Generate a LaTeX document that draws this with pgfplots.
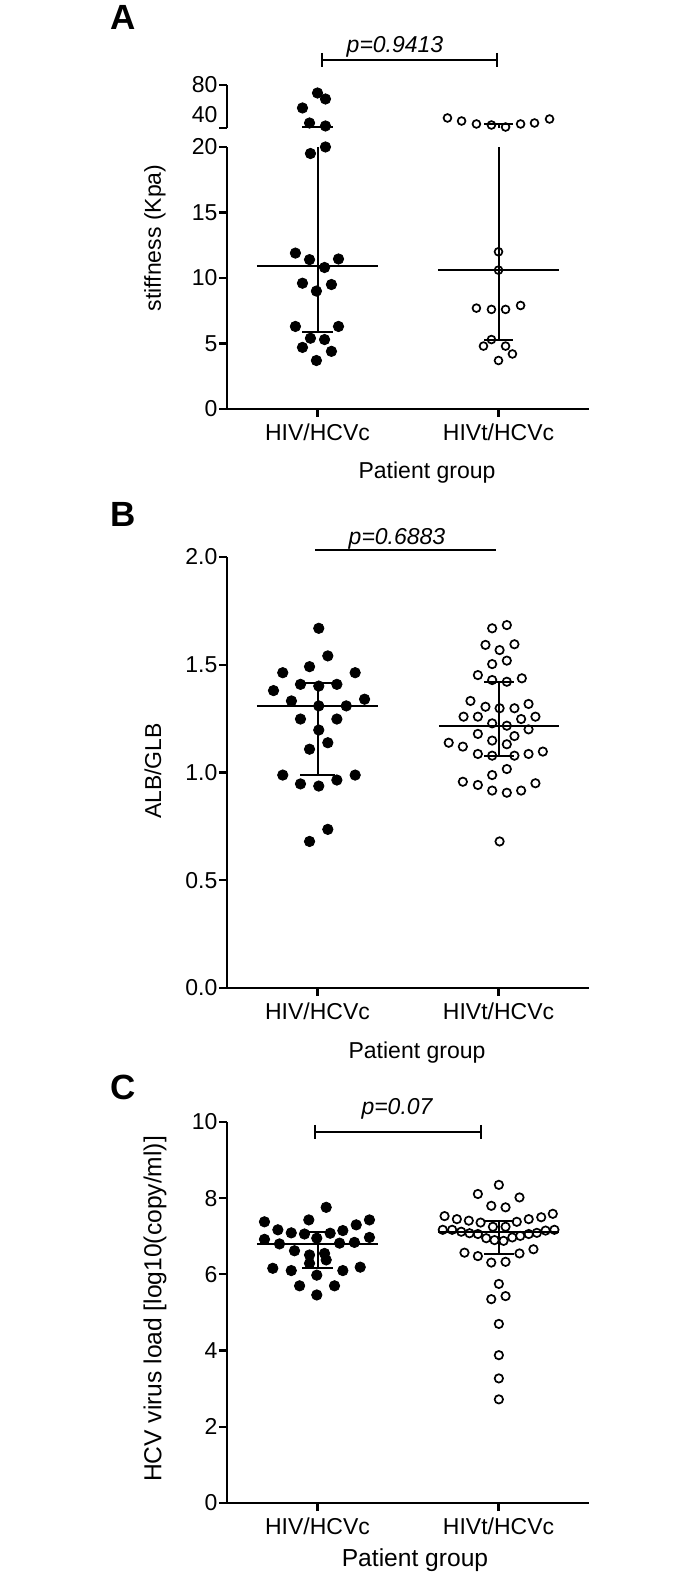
\documentclass[border=0pt]{standalone}
\usepackage{pgfplots}
\pgfplotsset{compat=1.18}
\usepackage{fontspec}
\setmainfont{Liberation Sans}
\newcommand{\tk}{\fontsize{11.5}{13}\selectfont}
\newcommand{\tkc}{\fontsize{12.3}{14}\selectfont}
\pgfplotsset{
  gp/.style={
    scale only axis, width=181pt,
    xmin=0.5, xmax=2.5,
    axis x line=bottom, axis y line=left,
    axis line style={-, line width=1.3pt},
    tick align=outside, major tick length=4pt,
    every tick/.style={black, line width=1.1pt},
    xtick={1,2}, xticklabels={HIV/HCVc,HIVt/HCVc},
    ticklabel style={font=\tk},
    yticklabel style={inner xsep=0.6pt},
    /pgf/number format/assume math mode=true,
    clip=false,
    anchor=south west,
  },
  filled/.style={only marks, mark=*, mark size=2.6pt, mark options={fill=black, draw=black}},
  hollow/.style={only marks, mark=o, mark size=2.1pt, mark options={draw=black, line width=0.85pt}},
  wl/.style={black, line width=1pt, mark=none},
}
\begin{document}
\begin{tikzpicture}
\useasboundingbox (0,0) rectangle (350pt,788.5pt);
% ---------------- Panel A lower ----------------
\begin{axis}[gp, at={(113.5pt,584pt)}, height=131pt, ymin=0, ymax=20, ytick={0,5,10,15,20}]
\addplot[wl] coordinates {(0.665,10.9) (1.335,10.9)};
\addplot[wl] coordinates {(1,5.9) (1,20)};
\addplot[wl] coordinates {(0.915,5.9) (1.085,5.9)};
\addplot[wl] coordinates {(1.665,10.6) (2.335,10.6)};
\addplot[wl] coordinates {(2,5.3) (2,20)};
\addplot[wl] coordinates {(1.92,5.3) (2.08,5.3)};
\addplot[filled] coordinates {
(0.878,11.9) (0.956,11.4) (1.116,11.45) (1.039,10.8) (0.917,9.6) (1.077,9.5) (0.994,9.0)
(0.878,6.3) (1.116,6.3) (0.961,5.4) (1.039,5.3) (0.917,4.7) (1.077,4.4) (0.994,3.7)
(0.961,19.5) (1.044,20.0)};
\addplot[hollow, mark size=1.95pt] coordinates {
(2.0,12.0) (2.0,10.6) (1.878,7.7) (1.961,7.6) (2.039,7.6) (2.122,7.9)
(1.961,5.3) (1.917,4.8) (2.039,4.8) (2.077,4.2) (2.0,3.7)};
\end{axis}
% ---------------- Panel A upper ----------------
\begin{axis}[gp, at={(113.5pt,724.5pt)}, height=21.5pt, ymin=22, ymax=80,
  axis x line=none, ytick={22,80}, yticklabels={,80},
  extra y ticks={40}, extra y tick labels={40},
  extra y tick style={tick style={draw=none}}]
\addplot[wl] coordinates {(1,22) (1,23.3)};
\addplot[wl] coordinates {(0.915,23.3) (1.085,23.3)};
\addplot[wl] coordinates {(2,22) (2,27.4)};
\addplot[wl] coordinates {(1.92,27.4) (2.08,27.4)};
\addplot[filled] coordinates {(1.0,69.2) (1.044,61.1) (0.917,49.0) (0.956,28.7) (1.044,24.7)};
\addplot[hollow, mark size=1.95pt] coordinates {
(1.718,35.5) (1.796,31.4) (1.878,27.4) (1.961,26.0) (2.039,23.3) (2.122,27.4) (2.199,28.7) (2.282,34.1)};
\end{axis}
% ---------------- Panel B ----------------
\begin{axis}[gp, at={(113.5pt,294.5pt)}, height=215.5pt, ymin=0, ymax=2,
  ytick={0,0.5,1,1.5,2}, yticklabels={0.0,0.5,1.0,1.5,2.0}]
\addplot[wl] coordinates {(0.665,1.309) (1.335,1.309)};
\addplot[wl] coordinates {(1,0.988) (1,1.414)};
\addplot[wl] coordinates {(0.9,1.414) (1.1,1.414)};
\addplot[wl] coordinates {(0.905,0.988) (1.095,0.988)};
\addplot[wl] coordinates {(1.67,1.217) (2.335,1.217)};
\addplot[wl] coordinates {(2,1.078) (2,1.421)};
\addplot[wl] coordinates {(1.92,1.421) (2.085,1.421)};
\addplot[wl] coordinates {(1.92,1.078) (2.085,1.078)};
\addplot[filled] coordinates {
(1.007,1.669) (1.057,1.541) (0.956,1.491) (0.808,1.463) (1.208,1.463)
(0.906,1.409) (1.007,1.401) (1.107,1.409) (0.757,1.380) (0.856,1.332) (1.260,1.340)
(1.007,1.309) (1.159,1.309) (0.906,1.248) (1.107,1.248) (1.007,1.197) (1.057,1.138)
(0.956,1.108) (0.808,0.988) (1.208,0.988) (0.906,0.947) (1.007,0.937) (1.107,0.965)
(1.057,0.736) (0.956,0.68)};
\addplot[hollow] coordinates {
(1.965,1.669) (2.046,1.684) (1.928,1.592) (2.006,1.568) (2.088,1.595)
(1.965,1.503) (2.046,1.519) (1.886,1.452) (1.965,1.429) (2.046,1.421) (2.129,1.437)
(1.845,1.332) (1.928,1.305) (2.006,1.298) (2.088,1.298) (2.166,1.318)
(1.807,1.259) (1.886,1.259) (1.965,1.228) (2.046,1.217) (2.125,1.248) (2.204,1.259)
(1.886,1.179) (1.965,1.148) (2.046,1.131) (2.088,1.169) (2.166,1.200)
(1.725,1.138) (1.803,1.120) (1.886,1.086) (1.965,1.078) (2.088,1.078) (2.166,1.086) (2.245,1.097)
(2.046,1.016) (1.965,0.988) (1.803,0.957) (1.886,0.942) (1.965,0.916) (2.046,0.906)
(2.125,0.916) (2.204,0.950) (2.006,0.68)};
\end{axis}
% ---------------- Panel C ----------------
\begin{axis}[gp, at={(113.5pt,37pt)}, height=190.5pt, ymin=0, ymax=10, ytick={0,2,4,6,8,10}]
\addplot[wl] coordinates {(0.665,6.80) (1.335,6.80)};
\addplot[wl] coordinates {(1,6.18) (1,7.10)};
\addplot[wl] coordinates {(0.915,7.10) (1.085,7.10)};
\addplot[wl] coordinates {(0.915,6.18) (1.085,6.18)};
\addplot[wl] coordinates {(1.665,7.10) (2.335,7.10)};
\addplot[wl] coordinates {(2,6.54) (2,7.41)};
\addplot[wl] coordinates {(1.92,7.41) (2.085,7.41)};
\addplot[wl] coordinates {(1.92,6.54) (2.085,6.54)};
\addplot[filled] coordinates {
(1.048,7.76) (0.707,7.38) (0.952,7.43) (1.287,7.43) (1.214,7.30) (0.781,7.17) (1.140,7.15)
(0.855,7.09) (0.928,7.06) (1.070,7.08) (0.707,6.92) (0.996,6.95) (1.287,6.97) (0.790,6.80)
(1.122,6.82) (1.204,6.84) (0.873,6.62) (0.956,6.51) (1.039,6.55) (0.956,6.29) (1.048,6.38)
(0.753,6.16) (0.855,6.10) (1.140,6.10) (1.236,6.19) (0.996,5.98) (0.901,5.70) (1.094,5.70)
(0.996,5.46)};
\addplot[hollow] coordinates {
(2.002,8.35) (1.886,8.11) (2.116,8.02) (1.960,7.80) (2.039,7.76)
(1.702,7.53) (1.770,7.45) (1.836,7.41) (1.901,7.36) (1.969,7.25) (2.039,7.25) (2.101,7.38)
(2.167,7.45) (2.236,7.50) (2.300,7.59)
(1.692,7.17) (1.744,7.17) (1.794,7.12) (1.840,7.08) (1.886,7.06) (1.932,6.95) (1.978,6.90)
(2.028,6.88) (2.076,6.97) (2.120,7.01) (2.167,7.06) (2.212,7.09) (2.260,7.15) (2.309,7.17)
(1.812,6.57) (1.886,6.48) (1.960,6.31) (2.039,6.33) (2.116,6.55) (2.193,6.66)
(2.002,5.75) (1.960,5.35) (2.039,5.43) (2.002,4.70) (2.002,3.88) (2.002,3.27) (2.002,2.72)};
\end{axis}
% ---------------- annotations (pixel coordinates) ----------------
\begin{scope}[x=0.5pt,y=-0.5pt,shift={(0pt,788.5pt)}]
\node[anchor=base,inner sep=0pt,font=\bfseries\fontsize{17.5}{20}\selectfont] at (123,30) {A};
\node[anchor=base,inner sep=0pt,font=\bfseries\fontsize{17.5}{20}\selectfont] at (123,527) {B};
\node[anchor=base,inner sep=0pt,font=\bfseries\fontsize{17.5}{20}\selectfont] at (123,1100) {C};
% significance
\draw[line width=1pt] (322,60) -- (497,60) (322,53) -- (322,67) (497,53) -- (497,67);
\node[anchor=base,inner sep=0pt,font=\itshape\tk] at (395,53) {p=0.9413};
\draw[line width=1.3pt] (315,550) -- (496,550);
\node[anchor=base,inner sep=0pt,font=\itshape\tk] at (397,545) {p=0.6883};
\draw[line width=1pt] (315,1132) -- (481,1132) (315,1125) -- (315,1139) (481,1125) -- (481,1139);
\node[anchor=base,inner sep=0pt,font=\itshape\tk] at (397,1115) {p=0.07};
% axis labels
\node[rotate=90,inner sep=0pt,font=\tk] at (155,238) {stiffness (Kpa)};
\node[inner sep=0pt,font=\tk] at (427,473) {Patient group};
\node[rotate=90,inner sep=0pt,font=\tk] at (153,771) {ALB/GLB};
\node[inner sep=0pt,font=\tk] at (417,1053) {Patient group};
\node[rotate=90,inner sep=0pt,font=\tkc] at (155,1309) {HCV virus load [log10(copy/ml)]};
\node[inner sep=0pt,font=\tkc] at (415,1560) {Patient group};
\end{scope}
\end{tikzpicture}
\end{document}
